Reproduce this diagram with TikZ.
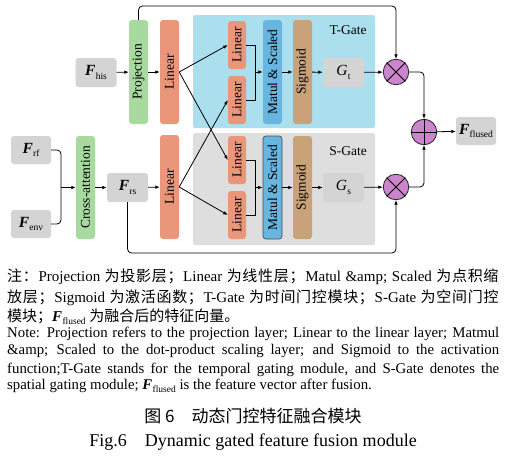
\documentclass[tikz,border=0pt]{standalone}
\usepackage{fontspec}
\setmainfont{Liberation Serif}
\newfontfamily\cjk{Noto Sans CJK SC}
\usetikzlibrary{arrows.meta}
\definecolor{projgreen}{RGB}{168,218,160}
\definecolor{salmon}{RGB}{234,150,122}
\definecolor{tblue}{RGB}{172,223,238}
\definecolor{sgray}{RGB}{222,222,222}
\definecolor{matblue}{RGB}{104,182,224}
\definecolor{sigtan}{RGB}{202,162,122}
\definecolor{featgray}{RGB}{212,212,212}
\definecolor{opc}{RGB}{204,132,204}
\newcommand\zh[1]{{\cjk #1}}
\makeatletter
\newcommand\zhs[1]{{\cjk\zhs@loop#1\relax}}
\def\zhs@loop#1{\ifx#1\relax\else#1\hskip0pt plus 2pt\relax\expandafter\zhs@loop\fi}
\makeatother
\newcommand\FF[1]{{\bfseries\itshape F}\kern0.3pt\raisebox{-0.45ex}{\fontsize{9.5}{9.5}\selectfont #1}}
\newcommand\GG[1]{{\itshape G}\kern0.3pt\raisebox{-0.45ex}{\fontsize{9.5}{9.5}\selectfont #1}}
\begin{document}
\begin{tikzpicture}[x=1pt,y=-1pt,
  box/.style={rounded corners=3pt, inner sep=0pt, font=\fontsize{13.5}{14}\selectfont},
  vbar/.style={box, minimum width=19pt, minimum height=104pt},
  smallbar/.style={box, fill=salmon, minimum width=18pt, minimum height=48pt},
  feat/.style={box, fill=featgray, minimum width=41pt, minimum height=29pt, font=\fontsize{15.5}{15.5}\selectfont},
  op/.style={circle, draw=black!85, fill=opc, minimum size=25.5pt, inner sep=0pt, line width=0.8pt},
  arr/.style={-{Latex[length=4.5pt,width=3.6pt]}, line width=0.8pt},
  conn/.style={line width=0.8pt},
  region/.style={rounded corners=2pt, inner sep=0pt},
  notefont/.style={inner sep=0pt, font=\fontsize{15}{15}\selectfont},
  engfont/.style={inner sep=0pt, font=\fontsize{14.8}{15}\selectfont}]
\useasboundingbox (0,0) rectangle (512,458);
\fill[white] (0,0) rectangle (512,458);
% regions
\node[region, fill=tblue, minimum width=182pt, minimum height=113pt] (treg) at (284,71.5) {};
\node[region, fill=sgray, minimum width=182pt, minimum height=112pt] (sreg) at (284,189) {};
\node[font=\fontsize{13.5}{14}\selectfont] (tlab) at (348,30) {T-Gate};
\node[font=\fontsize{13.5}{14}\selectfont] (slab) at (348,151) {S-Gate};
% top branch
\node[feat] (his) at (96,72.5) {\FF{his}};
\node[vbar, fill=projgreen] (proj) at (138.5,72) {\rotatebox{90}{Projection}};
\node[vbar, fill=salmon] (lin1) at (169.5,72) {\rotatebox{90}{Linear}};
\node[smallbar] (tl1) at (237,45) {\rotatebox{90}{Linear}};
\node[smallbar] (tl2) at (237,100) {\rotatebox{90}{Linear}};
\node[vbar, fill=matblue] (tm) at (272.5,72) {\rotatebox{90}{Matul \& Scaled}};
\node[vbar, fill=sigtan] (ts) at (302.5,72) {\rotatebox{90}{Sigmoid}};
\node[feat] (gt) at (343.5,72.5) {\GG{t}};
\node[op] (tx) at (396,72) {};
\draw[line width=0.8pt] (tx.north east) -- (tx.south west) (tx.north west) -- (tx.south east);
% bottom branch
\node[feat, minimum width=40pt, minimum height=28pt] (rf) at (31,150) {\FF{rf}};
\node[feat, minimum width=40pt, minimum height=28pt] (env) at (31,224) {\FF{env}};
\node[vbar, fill=projgreen, minimum height=103pt] (cross) at (85.5,187.5) {\rotatebox{90}{Cross-attention}};
\node[feat] (rs) at (127.5,187.5) {\FF{rs}};
\node[vbar, fill=salmon] (lin2) at (169.5,187) {\rotatebox{90}{Linear}};
\node[smallbar] (sl1) at (237,160) {\rotatebox{90}{Linear}};
\node[smallbar] (sl2) at (237,215) {\rotatebox{90}{Linear}};
\node[vbar, fill=matblue, draw=black!70, line width=0.7pt, minimum height=103pt] (sm) at (272.5,187.5) {\rotatebox{90}{Matul \& Scaled}};
\node[vbar, fill=sigtan, minimum height=103pt] (ss) at (302.5,187.5) {\rotatebox{90}{Sigmoid}};
\node[feat] (gs) at (343.5,187.5) {\GG{s}};
\node[op] (sx) at (396,187) {};
\draw[line width=0.8pt] (sx.north east) -- (sx.south west) (sx.north west) -- (sx.south east);
\node[op] (plus) at (424,132) {};
\draw[line width=0.8pt] (plus.north) -- (plus.south) (plus.west) -- (plus.east);
\node[feat, minimum width=40pt, minimum height=28pt] (fl) at (476,131) {\FF{flused}};
% coordinates
\coordinate (tj) at (255,72);
\coordinate (sj) at (255,187.5);
\coordinate (cj) at (61,187.5);
\coordinate (tc) at (396,6);
\coordinate (bc) at (396,253);
% connectors
\draw[arr] (his) -- (proj);
\draw[arr] (proj) -- (lin1);
\draw[arr] (lin1.east) -- (tl1.west);
\draw[arr] (lin1.east) -- (sl1.west);
\draw[arr] (lin2.east) -- (tl2.west);
\draw[arr] (lin2.east) -- (sl2.west);
\draw[conn] (tl1.east) -| (tj);
\draw[conn] (tl2.east) -| (tj);
\draw[arr] (tj) -- (tm);
\draw[conn] (sl1.east) -| (sj);
\draw[conn] (sl2.east) -| (sj);
\draw[arr] (sj) -- (sm);
\draw[arr] (tm) -- (ts);
\draw[arr] (ts) -- (gt);
\draw[arr] (gt) -- (tx);
\draw[arr] (sm) -- (ss);
\draw[arr] (ss) -- (gs);
\draw[arr] (gs) -- (sx);
\draw[arr, rounded corners=4pt] (proj.north) |- (tc) -- (tx.north);
\draw[arr, rounded corners=4pt] (tx.east) -| (plus.north);
\draw[arr, rounded corners=4pt] (sx.east) -| (plus.south);
\draw[arr] (plus) -- (fl);
\draw[arr, rounded corners=4pt] (rs.south) |- (bc) -- (sx.south);
\draw[conn, rounded corners=4pt] (rf.east) -| (cj);
\draw[conn, rounded corners=4pt] (env.east) -| (cj);
\draw[arr] (cj) -- (cross);
\draw[arr] (cross) -- (rs);
\draw[arr] (rs) -- (lin2);
% notes
\node[notefont, anchor=base west] (n1) at (7,281) {\makebox[492pt][s]{\zhs{注：}Projection \zhs{为投影层；}Linear \zhs{为线性层；}Matul \&amp; Scaled \zhs{为点积缩}}};
\node[notefont, anchor=base west] (n2) at (7,302) {\makebox[492pt][s]{\zhs{放层；}Sigmoid \zhs{为激活函数；}T-Gate \zhs{为时间门控模块；}S-Gate \zhs{为空间门控}}};
\node[notefont, anchor=base west] (n3) at (7,321) {\zh{模块；}\FF{flused} \zh{为融合后的特征向量。}};
\node[engfont, anchor=base west] (n4) at (7,337) {\makebox[492pt][s]{Note: Projection refers to the projection layer; Linear to the linear layer; Matmul}};
\node[engfont, anchor=base west] (n5) at (7,354) {\makebox[492pt][s]{\&amp; Scaled to the dot-product scaling layer; and Sigmoid to the activation}};
\node[engfont, anchor=base west] (n6) at (7,373) {\makebox[492pt][s]{function;T-Gate stands for the temporal gating module, and S-Gate denotes the}};
\node[engfont, anchor=base west] (n7) at (7,389) {spatial gating module; \FF{flused} is the feature vector after fusion.};
\node[inner sep=0pt, anchor=base, font=\fontsize{17}{17}\selectfont] (cap1) at (253,422) {\zh{图 6\hspace{1em}动态门控特征融合模块}};
\node[inner sep=0pt, anchor=base, font=\fontsize{18}{18}\selectfont] (cap2) at (253,446) {Fig.6\hspace{1em}Dynamic gated feature fusion module};
\end{tikzpicture}
\end{document}
